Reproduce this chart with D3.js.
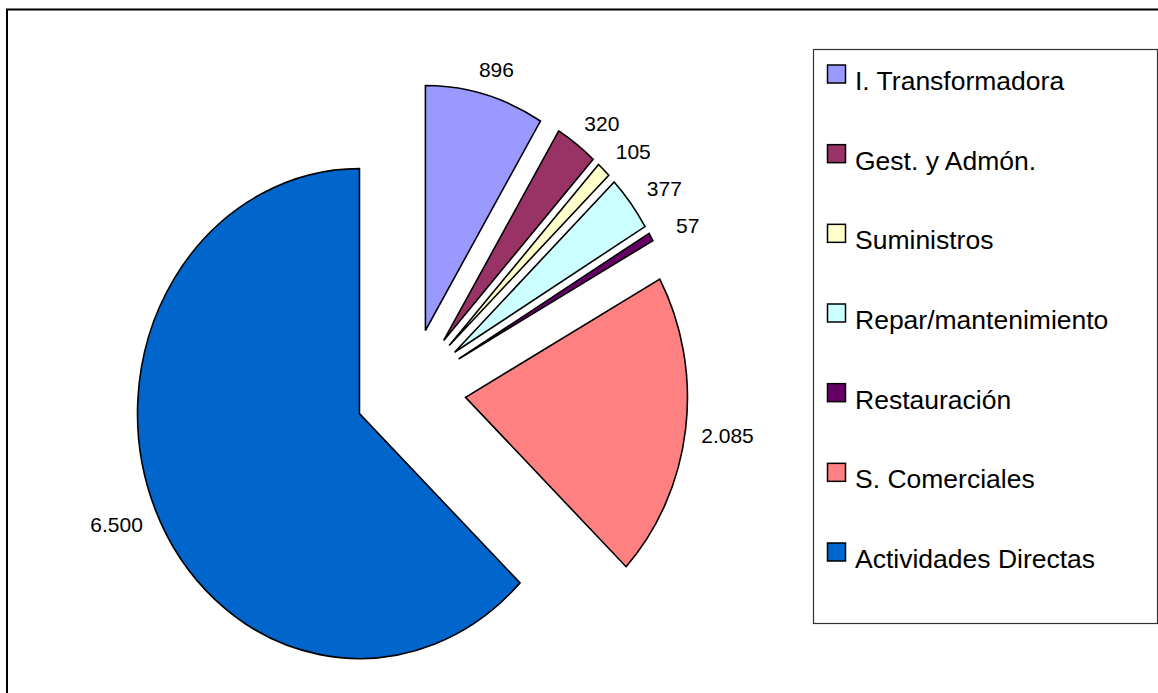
<!DOCTYPE html>
<html>
<head>
<meta charset="utf-8">
<script src="https://d3js.org/d3.v7.min.js"></script>
<style>
  body { margin: 0; background: #fff; }
  text { font-family: "Liberation Sans", Arial, sans-serif; fill: #000; }
</style>
</head>
<body>
<svg class="chart"></svg>
<script>
var width = 1158;
var height = 693;

// chart data (clockwise from 12 o'clock)
var categories = ["I. Transformadora", "Gest. y Admón.", "Suministros", "Repar/mantenimiento",
    "Restauración", "S. Comerciales", "Actividades Directas"];
var values = [896, 320, 105, 377, 57, 2085, 6500];
var labels = ["896", "320", "105", "377", "57", "2.085", "6.500"];
var colors = ["#9999FF", "#993366", "#FFFFCC", "#CCFFFF", "#660066", "#FF8080", "#0066CC"];

// pie geometry (the plot area is stretched, so the pie is an ellipse)
var cx = 410.5, cy = 389.5;
var rx = 222, ry = 245;
var explode = 0.25; // every slice pulled out by a quarter of the radius

var svg = d3.select(".chart")
    .attr("width", width)
    .attr("height", height);

// outer chart border (runs off the right and bottom of the picture)
svg.append("rect")
    .attr("x", 7)
    .attr("y", 9.5)
    .attr("width", width + 20)
    .attr("height", height + 20)
    .style("fill", "none")
    .style("stroke", "#000")
    .style("stroke-width", 2);

var pie = d3.pie().sort(null).value(function(d) { return d; });
var arcs = pie(values);

var arc = d3.arc().innerRadius(0).outerRadius(1);

function mid(d) { return (d.startAngle + d.endAngle) / 2; }

// draw each slice on a unit circle, then stretch it to the ellipse
svg.append("g").selectAll("path")
    .data(arcs)
    .enter().append("path")
    .attr("d", arc)
    .attr("transform", function(d) {
        var a = mid(d);
        var vx = cx + rx * explode * Math.sin(a);
        var vy = cy - ry * explode * Math.cos(a);
        return "translate(" + vx + "," + vy + ") scale(" + rx + "," + ry + ")";
    })
    .attr("vector-effect", "non-scaling-stroke")
    .style("fill", function(d, i) { return colors[i]; })
    .style("stroke", "#000")
    .style("stroke-width", 1.6)
    .style("stroke-linejoin", "miter");

// data labels, outside each slice along its middle angle
svg.append("g").selectAll("text")
    .data(arcs)
    .enter().append("text")
    .attr("x", function(d) { return cx + 1.44 * rx * Math.sin(mid(d)); })
    .attr("y", function(d) { return cy - 1.37 * ry * Math.cos(mid(d)); })
    .attr("dy", "0.5em")
    .style("text-anchor", "middle")
    .style("font-size", "21px")
    .text(function(d, i) { return labels[i]; });

// legend
var legend = svg.append("g").attr("transform", "translate(813.5,49.5)");

legend.append("rect")
    .attr("width", 344)
    .attr("height", 574)
    .style("fill", "#fff")
    .style("stroke", "#333")
    .style("stroke-width", 1.2);

var rowY = d3.scalePoint()
    .domain(categories)
    .range([40.5, 518.5]);

var item = legend.selectAll(".item")
    .data(categories)
    .enter().append("g")
    .attr("class", "item")
    .attr("transform", function(d) { return "translate(0," + rowY(d) + ")"; });

item.append("rect")
    .attr("x", 14)
    .attr("y", -25)
    .attr("width", 18)
    .attr("height", 18)
    .style("fill", function(d, i) { return colors[i]; })
    .style("stroke", "#000")
    .style("stroke-width", 1.5);

item.append("text")
    .attr("x", 41.5)
    .attr("y", 0)
    .style("font-size", "26.5px")
    .text(function(d) { return d; });
</script>
</body>
</html>
